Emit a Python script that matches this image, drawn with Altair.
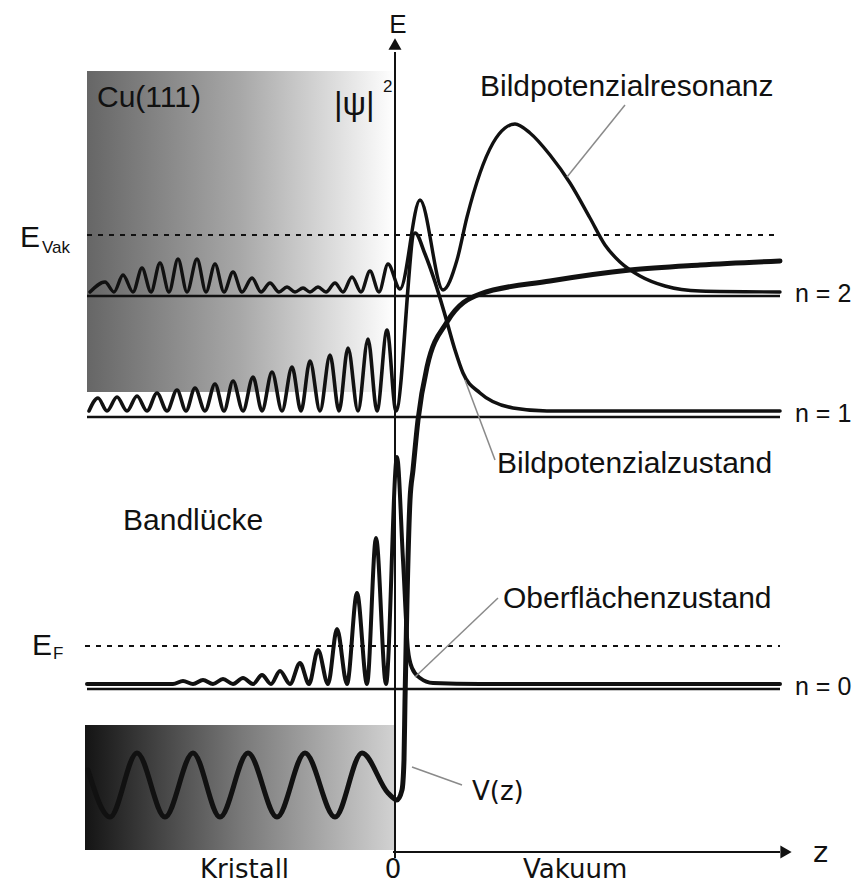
import altair as alt
import pandas as pd

# ---------------- data ----------------
# z: position perpendicular to the surface (z = 0 at the surface), E: energy (arb. units)

# bound levels
level_names = ["n = 2", "n = 1", "n = 0"]
level_E = [556, 435, 163]
level_label_E = [550, 430, 157]
level_z_start, level_z_end = -308, 385

# reference energies (dashed)
ref_names = ["E_Vak", "E_F"]
ref_E = [617, 206]

# crystal regions (gradient boxes): z1, z2, E1, E2
box_upper = [-308, 0, 460, 781]
box_lower = [-310, 0, 2, 127]

# |psi|^2 of n = 2 (image potential resonance)
n2_z = [-305, -290, -281, -272, -262, -253, -244, -235, -226, -217, -208, -198, -189,
        -180, -171, -162, -153, -143, -134, -125, -116, -108, -100, -92, -85, -77,
        -69, -60, -52, -43, -34, -25, -16, -7, 5, 25, 48, 62, 72, 85, 98, 110, 120,
        135, 155, 175, 195, 210, 225, 245, 270, 305, 385]
n2_E = [560, 570, 560, 577, 560, 584, 560, 589, 560, 593, 560, 593, 560,
        588, 560, 580, 560, 574, 560, 569, 560, 565, 560, 564, 560, 565,
        560, 569, 560, 575, 560, 581, 560, 588, 563, 652, 562, 592, 635, 679, 709, 724, 728,
        719, 697, 669, 634, 607, 590, 576, 566, 561, 560]

# |psi|^2 of n = 1 (image potential state)
n1_z = [-306, -297, -288, -278, -268, -258, -248, -238, -228, -218, -209, -200, -190,
        -180, -171, -162, -152, -142, -133, -123, -113, -103, -94, -85, -75, -65,
        -56, -47, -37, -27, -18, -8, 1, 20, 30, 40, 50, 60, 68, 85, 118, 152, 385]
n1_E = [441, 454, 441, 455, 441, 456, 441, 459, 441, 462, 441, 464, 441,
        468, 441, 471, 441, 475, 441, 480, 441, 485, 441, 491, 441, 497,
        441, 504, 441, 513, 441, 522, 441, 619, 598, 570, 537, 502, 479, 459, 444, 441, 441]

# |psi|^2 of n = 0 (surface state)
n0_z = [-308, -222, -212, -202, -192, -182, -172, -162, -152, -142, -133, -124, -115,
        -105, -95, -86, -77, -67, -58, -48, -38, -28, -19, -9, 2, 8, 13, 17, 25, 38, 85, 385]
n0_E = [168, 168, 171, 168, 172, 168, 173, 168, 174, 168, 177, 168, 181,
        168, 189, 168, 202, 168, 223, 168, 259, 168, 314, 168, 395, 292, 202, 184, 174, 169, 168, 168]

# potential V(z)
v_z = [-307, -285, -258, -230, -202, -175, -147, -118, -90, -60, -33, -7, 2, 7, 9, 10,
       12, 15, 18, 23, 32, 52, 85, 155, 235, 305, 385]
v_E = [82, 35, 99, 35, 99, 35, 99, 35, 99, 35, 99, 59, 52, 62, 92, 152,
       252, 352, 382, 432, 485, 530, 558, 571, 582, 587, 591]

# annotation leader lines: z1, E1, z2, E2
leaders = [
    (172, 675, 230, 747),   # Bildpotenzialresonanz
    (70, 472, 100, 392),    # Bildpotenzialzustand
    (20, 175, 103, 254),    # Oberflächenzustand
    (17, 85, 67, 67),       # V(z)
]

# axes
e_axis = (0, -6, 800)
z_axis = (-2, 385, 0)

# texts
big_texts = [("Cu(111)", -298, 745), ("Bildpotenzialresonanz", 85, 756),
             ("Bildpotenzialzustand", 102, 379), ("Bandlücke", -272, 322),
             ("Oberflächenzustand", 108, 244), ("E", -375, 605), ("E", -363, 197)]
sub_texts = [("Vak", -353, 599), ("F", -342, 193)]
level_label_z = 400
bottom_texts = [("Kristall", -195, -26), ("Vakuum", 128, -26), ("V(z)", 77, 52)]

# ---------------- chart ----------------
xs = alt.Scale(domain=[-387, 459], nice=False, zero=False)
ys = alt.Scale(domain=[-33, 844], nice=False, zero=False)
X = lambda f: alt.X(f, type="quantitative", scale=xs, axis=None)
Y = lambda f: alt.Y(f, type="quantitative", scale=ys, axis=None)
INK = "#111111"


def grad(c0, c1, c2):
    return alt.Gradient(gradient="linear", x1=0, x2=1, y1=0, y2=0,
                        stops=[alt.GradientStop(color=c0, offset=0),
                               alt.GradientStop(color=c1, offset=0.5),
                               alt.GradientStop(color=c2, offset=1)])


def box(b, g):
    df = pd.DataFrame({"z1": [b[0]], "z2": [b[1]], "E1": [b[2]], "E2": [b[3]]})
    return alt.Chart(df).mark_rect(color=g).encode(x=X("z1"), x2="z2", y=Y("E1"), y2="E2")


def curve(z, E, w):
    df = pd.DataFrame({"z": z, "E": E, "i": list(range(len(z)))})
    return alt.Chart(df).mark_line(interpolate="monotone", color=INK, strokeWidth=w,
                                   strokeCap="round", strokeJoin="round").encode(
        x=X("z"), y=Y("E"), order="i:Q")


def texts(rows, font, size, align="left"):
    df = pd.DataFrame(rows, columns=["t", "z", "E"])
    return alt.Chart(df).mark_text(font=font, fontSize=size, align=align,
                                   baseline="alphabetic", color=INK).encode(
        x=X("z"), y=Y("E"), text="t:N")


layers = []
layers.append(box(box_upper, grad("#666666", "#a8a8a8", "#ffffff")))
layers.append(box(box_lower, grad("#141414", "#787878", "#d2d2d2")))

ref_df = pd.DataFrame({"name": ref_names, "E": ref_E,
                       "z1": [level_z_start, level_z_start - 2], "z2": [level_z_end, level_z_end]})
layers.append(alt.Chart(ref_df).mark_rule(color=INK, strokeWidth=2, strokeDash=[5, 6]).encode(
    x=X("z1"), x2="z2", y=Y("E")))

lvl_df = pd.DataFrame({"name": level_names, "E": level_E,
                       "z1": [level_z_start] * 3, "z2": [level_z_end] * 3})
layers.append(alt.Chart(lvl_df).mark_rule(color=INK, strokeWidth=2.5).encode(
    x=X("z1"), x2="z2", y=Y("E")))

ax_df = pd.DataFrame({"z1": [e_axis[0], z_axis[0]], "z2": [e_axis[0], z_axis[1]],
                      "E1": [e_axis[1], z_axis[2]], "E2": [e_axis[2], z_axis[2]]})
layers.append(alt.Chart(ax_df).mark_rule(color=INK, strokeWidth=2).encode(
    x=X("z1"), x2="z2", y=Y("E1"), y2="E2"))

layers.append(curve(n0_z, n0_E, 4))
layers.append(curve(n1_z, n1_E, 3.6))
layers.append(curve(n2_z, n2_E, 3.4))
layers.append(curve(v_z, v_E, 5))

ld = pd.DataFrame(leaders, columns=["z1", "E1", "z2", "E2"])
layers.append(alt.Chart(ld).mark_rule(color="#8a8a8a", strokeWidth=1.5).encode(
    x=X("z1"), x2="z2", y=Y("E1"), y2="E2"))

arr_up = pd.DataFrame({"z": [e_axis[0]], "E": [e_axis[2] + 8]})
arr_rt = pd.DataFrame({"z": [z_axis[1] + 6], "E": [z_axis[2]]})
layers.append(alt.Chart(arr_up).mark_point(shape="triangle-up", filled=True, size=170,
                                           color=INK, opacity=1).encode(x=X("z"), y=Y("E")))
layers.append(alt.Chart(arr_rt).mark_point(shape="triangle-right", filled=True, size=170,
                                           color=INK, opacity=1).encode(x=X("z"), y=Y("E")))

layers.append(texts(big_texts, "Liberation Sans", 30))
layers.append(texts(sub_texts, "Liberation Sans", 17))
layers.append(texts([("E", 3, 819)], "Liberation Sans", 26, align="center"))
layers.append(texts([("|ψ|", -61, 737)], "Liberation Sans", 33))
layers.append(texts([("2", -12, 760)], "Liberation Sans", 17))
layers.append(texts([(n, level_label_z, e) for n, e in zip(level_names, level_label_E)],
                    "Liberation Sans", 25))
layers.append(texts(bottom_texts, "DejaVu Sans", 26))
layers.append(texts([("0", -2, -26)], "DejaVu Sans", 26, align="center"))
layers.append(texts([("z", 418, -10)], "DejaVu Sans", 29))

chart = alt.layer(*layers).properties(
    width=846, height=877, autosize=alt.AutoSizeParams(type="none"), padding=0
).configure_view(stroke=None)

chart.save("out.html", embed_options={"renderer": "svg", "actions": False})
